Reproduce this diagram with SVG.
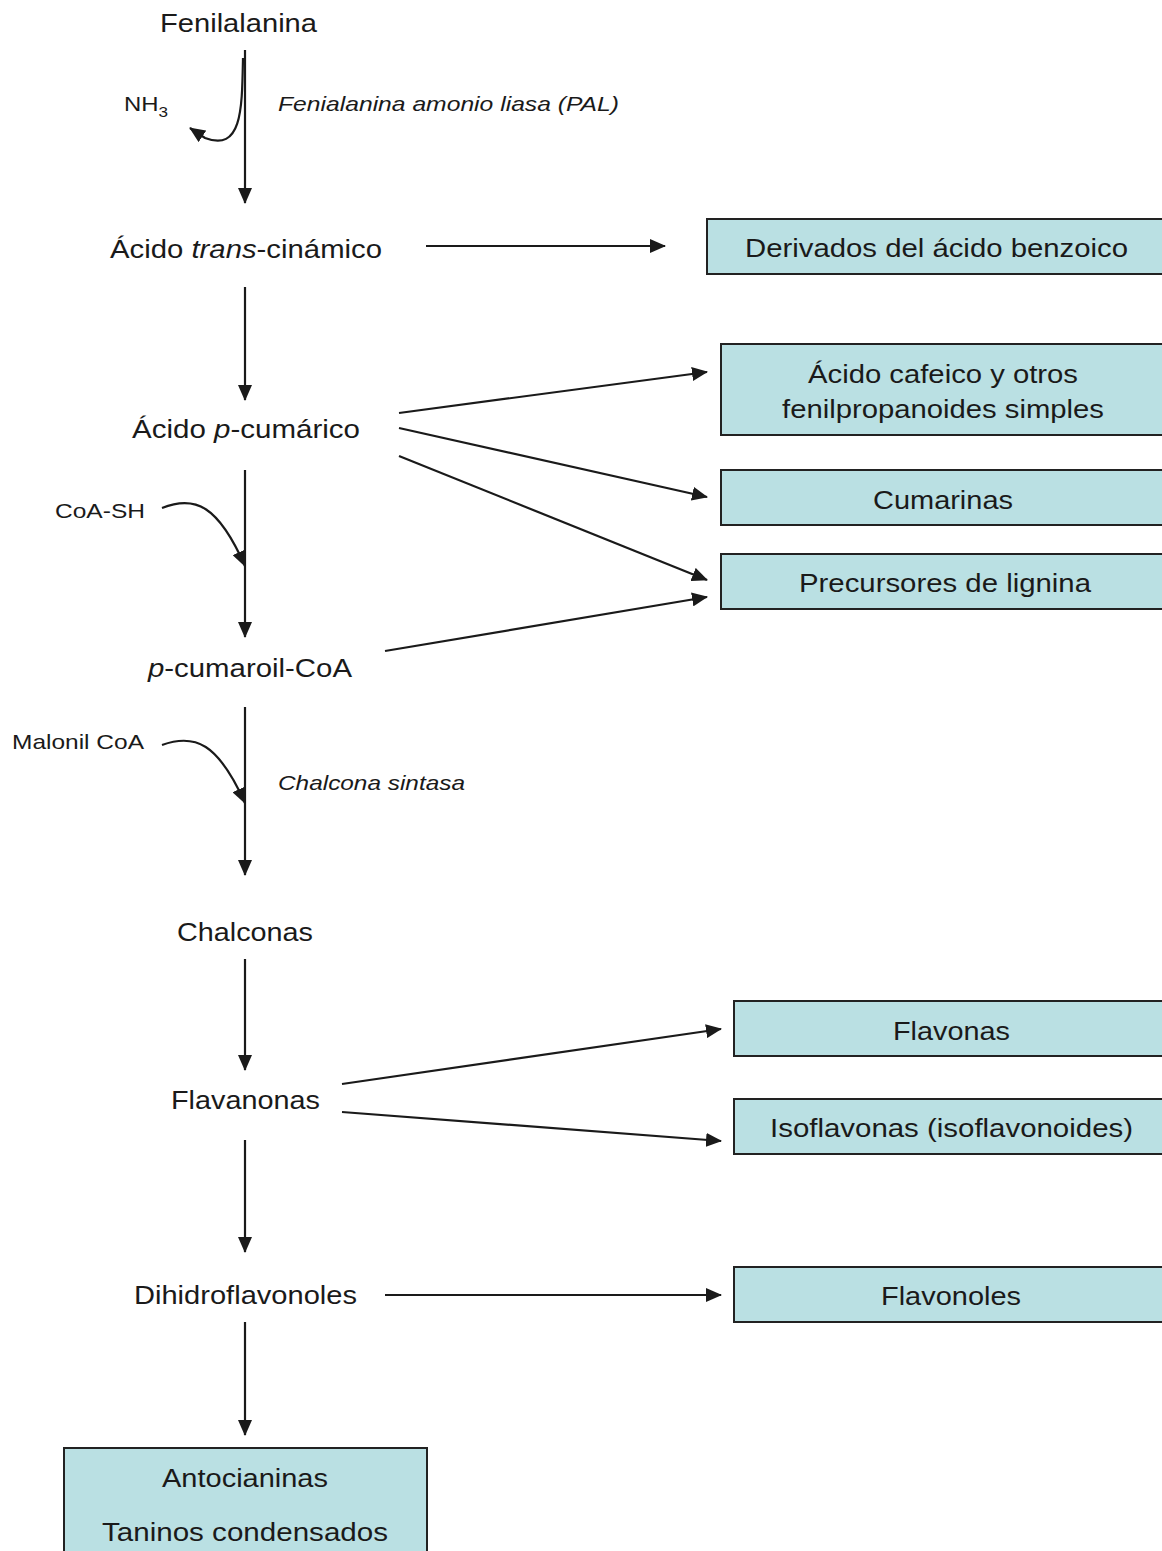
<svg xmlns="http://www.w3.org/2000/svg" width="1162" height="1551" viewBox="0 0 1162 1551">
<style>
.t{font-family:"Liberation Sans",Arial,sans-serif;font-size:26px;fill:#1a1a1a;text-anchor:middle}
.s{font-family:"Liberation Sans",Arial,sans-serif;font-size:21px;fill:#1a1a1a}
.i{font-style:italic}
.box{fill:#bae0e3;stroke:#222;stroke-width:2}
.ln{fill:none;stroke:#1a1a1a;stroke-width:2.2}
</style>
<defs>
<marker id="ah" markerUnits="userSpaceOnUse" markerWidth="16" markerHeight="14" refX="15" refY="7" orient="auto">
<path d="M0,0 L16,7 L0,14 Z" fill="#1a1a1a"/>
</marker>
</defs>
<g id="connectors">
<line class="ln" x1="245" y1="50" x2="245" y2="203" marker-end="url(#ah)"/>
<path class="ln" d="M243,58 C242,110 242,152 205,138 L190,128" marker-end="url(#ah)"/>
<line class="ln" x1="426" y1="246" x2="665" y2="246" marker-end="url(#ah)"/>
<line class="ln" x1="245" y1="287" x2="245" y2="400" marker-end="url(#ah)"/>
<line class="ln" x1="399" y1="413" x2="707" y2="372" marker-end="url(#ah)"/>
<line class="ln" x1="399" y1="428" x2="707" y2="497" marker-end="url(#ah)"/>
<line class="ln" x1="399" y1="456" x2="707" y2="580" marker-end="url(#ah)"/>
<line class="ln" x1="385" y1="651" x2="707" y2="597" marker-end="url(#ah)"/>
<line class="ln" x1="245" y1="470" x2="245" y2="637" marker-end="url(#ah)"/>
<path class="ln" d="M162,508 C195,495 218,505 245,566" marker-end="url(#ah)"/>
<line class="ln" x1="245" y1="707" x2="245" y2="875" marker-end="url(#ah)"/>
<path class="ln" d="M162,745 C195,733 218,743 245,803" marker-end="url(#ah)"/>
<line class="ln" x1="245" y1="959" x2="245" y2="1070" marker-end="url(#ah)"/>
<line class="ln" x1="342" y1="1084" x2="721" y2="1029" marker-end="url(#ah)"/>
<line class="ln" x1="342" y1="1112" x2="721" y2="1141" marker-end="url(#ah)"/>
<line class="ln" x1="245" y1="1140" x2="245" y2="1252" marker-end="url(#ah)"/>
<line class="ln" x1="385" y1="1295" x2="721" y2="1295" marker-end="url(#ah)"/>
<line class="ln" x1="245" y1="1322" x2="245" y2="1435" marker-end="url(#ah)"/>
</g>
<g id="labels">
<text class="s" x="124" y="111" textLength="44" lengthAdjust="spacingAndGlyphs">NH<tspan font-size="15" dy="6">3</tspan></text>
<text class="s i" x="278" y="111" textLength="341" lengthAdjust="spacingAndGlyphs">Fenialanina amonio liasa (PAL)</text>
<text class="s" x="55" y="518" textLength="90" lengthAdjust="spacingAndGlyphs">CoA-SH</text>
<text class="s" x="12" y="749" textLength="132" lengthAdjust="spacingAndGlyphs">Malonil CoA</text>
<text class="s i" x="278" y="790" textLength="187" lengthAdjust="spacingAndGlyphs">Chalcona sintasa</text>
</g>
<g id="fenilalanina"><text class="t" x="238.5" y="32" textLength="157" lengthAdjust="spacingAndGlyphs">Fenilalanina</text></g>
<g id="cinamico"><text class="t" x="246" y="258" textLength="272" lengthAdjust="spacingAndGlyphs">Ácido <tspan class="i">trans</tspan>-cinámico</text></g>
<g id="cumarico"><text class="t" x="246" y="438" textLength="228" lengthAdjust="spacingAndGlyphs">Ácido <tspan class="i">p</tspan>-cumárico</text></g>
<g id="cumaroil"><text class="t" x="250" y="677" textLength="204" lengthAdjust="spacingAndGlyphs"><tspan class="i">p</tspan>-cumaroil-CoA</text></g>
<g id="chalconas"><text class="t" x="245" y="941" textLength="136" lengthAdjust="spacingAndGlyphs">Chalconas</text></g>
<g id="flavanonas"><text class="t" x="245.5" y="1109" textLength="149" lengthAdjust="spacingAndGlyphs">Flavanonas</text></g>
<g id="dihidroflavonoles"><text class="t" x="245.5" y="1304" textLength="223" lengthAdjust="spacingAndGlyphs">Dihidroflavonoles</text></g>
<g id="benzoico"><rect class="box" x="707" y="219" width="470" height="55"/><text class="t" x="936.5" y="257" textLength="383" lengthAdjust="spacingAndGlyphs">Derivados del ácido benzoico</text></g>
<g id="cafeico"><rect class="box" x="721" y="344" width="456" height="91"/><text class="t" x="943" y="383" textLength="270" lengthAdjust="spacingAndGlyphs">Ácido cafeico y otros</text><text class="t" x="943" y="418" textLength="322" lengthAdjust="spacingAndGlyphs">fenilpropanoides simples</text></g>
<g id="cumarinas"><rect class="box" x="721" y="470" width="456" height="55"/><text class="t" x="943" y="509" textLength="140" lengthAdjust="spacingAndGlyphs">Cumarinas</text></g>
<g id="lignina"><rect class="box" x="721" y="554" width="456" height="55"/><text class="t" x="945" y="592" textLength="292" lengthAdjust="spacingAndGlyphs">Precursores de lignina</text></g>
<g id="flavonas"><rect class="box" x="734" y="1001" width="443" height="55"/><text class="t" x="951.5" y="1040" textLength="117" lengthAdjust="spacingAndGlyphs">Flavonas</text></g>
<g id="isoflavonas"><rect class="box" x="734" y="1099" width="443" height="55"/><text class="t" x="951.5" y="1137" textLength="363" lengthAdjust="spacingAndGlyphs">Isoflavonas (isoflavonoides)</text></g>
<g id="flavonoles"><rect class="box" x="734" y="1267" width="443" height="55"/><text class="t" x="951" y="1305" textLength="140" lengthAdjust="spacingAndGlyphs">Flavonoles</text></g>
<g id="antocianinas"><rect class="box" x="64" y="1448" width="363" height="120"/><text class="t" x="245" y="1487" textLength="166" lengthAdjust="spacingAndGlyphs">Antocianinas</text><text class="t" x="245" y="1541" textLength="286" lengthAdjust="spacingAndGlyphs">Taninos condensados</text></g>
</svg>
